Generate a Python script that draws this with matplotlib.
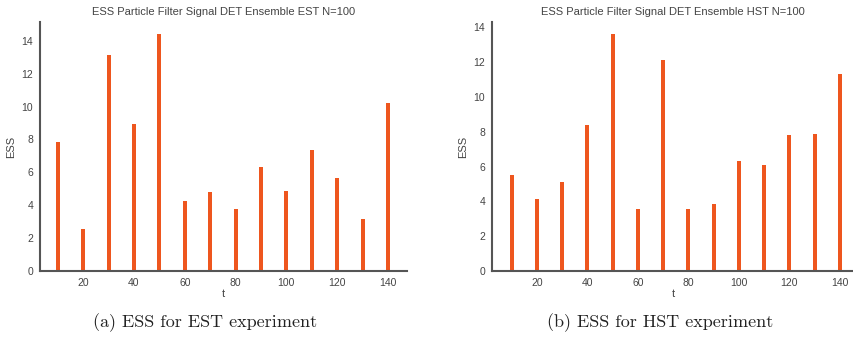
import matplotlib
matplotlib.use("Agg")
import matplotlib.pyplot as plt

t = [10, 20, 30, 40, 50, 60, 70, 80, 90, 100, 110, 120, 130, 140]
ess_est = [7.83, 2.58, 13.15, 8.93, 14.42, 4.25, 4.82, 3.76, 6.33, 4.84, 7.37, 5.68, 3.19, 10.2]
ess_hst = [5.52, 4.12, 5.13, 8.38, 13.63, 3.58, 12.15, 3.54, 3.83, 6.33, 6.1, 7.79, 7.85, 11.31]

titles = ["ESS Particle Filter Signal DET Ensemble EST N=100",
          "ESS Particle Filter Signal DET Ensemble HST N=100"]
captions = ["(a) ESS for EST experiment", "(b) ESS for HST experiment"]

bar_color = "#EE561E"
spine_color = "#555555"
text_color = "#444444"

plt.rcParams['font.family'] = ['Liberation Sans', 'DejaVu Sans']

fig = plt.figure(figsize=(8.54, 3.48), dpi=100)

# axes boxes in figure fractions
ax1 = fig.add_axes([40 / 854, 1 - 271 / 348, 367 / 854, 249 / 348])
ax2 = fig.add_axes([492 / 854, 1 - 271 / 348, 362 / 854, 249 / 348])

def style(ax, values, title, xlim):
    ax.bar(t, values, width=1.6, color=bar_color, linewidth=0)
    ax.set_xlim(*xlim)
    ax.set_ylim(0, max(values) * 1.05)
    ax.set_xticks([20, 40, 60, 80, 100, 120, 140])
    ax.set_yticks(range(0, int(max(values) * 1.05) + 1, 2))
    for s in ["top", "right"]:
        ax.spines[s].set_visible(False)
    for s in ["left", "bottom"]:
        ax.spines[s].set_color(spine_color)
        ax.spines[s].set_linewidth(1.5)
    ax.tick_params(length=0, labelsize=7.5, colors=text_color, pad=5)
    ax.set_title(title, fontsize=8, color=text_color, pad=5)
    ax.set_xlabel("t", fontsize=8, color=text_color, labelpad=1)
    ax.set_ylabel("ESS", fontsize=8, color=text_color, labelpad=4)

style(ax1, ess_est, titles[0], (3.0, 147.5))
style(ax2, ess_hst, titles[1], (2.2, 145.6))

fig.text(205 / 854, 1 - 323 / 348, captions[0], family='cmr10', fontsize=13,
         ha='center', va='center', color='#222222')
fig.text(660 / 854, 1 - 323 / 348, captions[1], family='cmr10', fontsize=13,
         ha='center', va='center', color='#222222')

fig.savefig("out.png", dpi=100)
